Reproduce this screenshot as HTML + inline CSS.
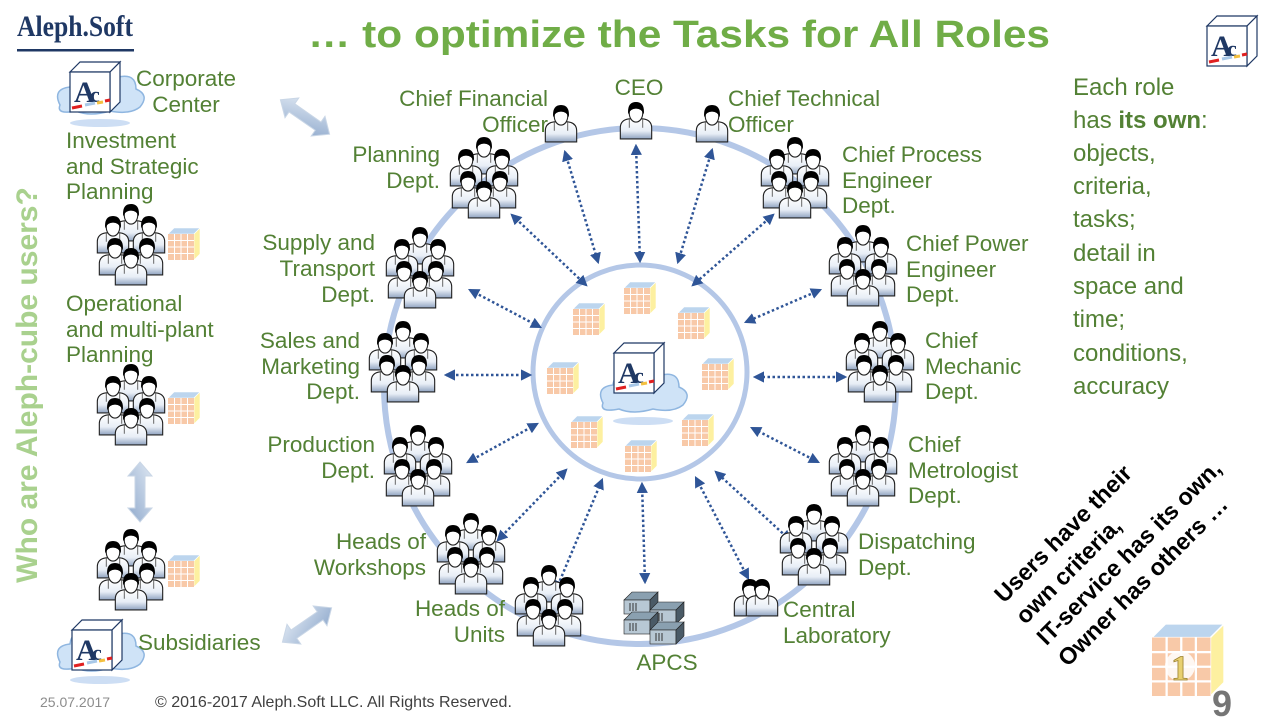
<!DOCTYPE html>
<html><head><meta charset="utf-8"><style>
body{margin:0;width:1280px;height:720px;overflow:hidden;background:#fff}
svg{display:block}
.l{font-family:"Liberation Sans",sans-serif;font-size:22.5px;fill:#538135}
</style></head><body>
<svg width="1280" height="720" viewBox="0 0 1280 720" xmlns="http://www.w3.org/2000/svg">
<defs>
<linearGradient id="bg" x1="0" y1="0" x2="0" y2="1"><stop offset="0" stop-color="#fff"/><stop offset="0.6" stop-color="#e8eef6"/><stop offset="1" stop-color="#8fa3c0"/></linearGradient>
<linearGradient id="ar" x1="0" y1="0" x2="1" y2="1"><stop offset="0" stop-color="#dfe8f3"/><stop offset="1" stop-color="#8fa9cc"/></linearGradient>
<g id="p"><g transform="scale(1.12)">
<path d="M-14,16 L-14,6 Q-14,-1 -6,-2 L6,-2 Q14,-1 14,6 L14,16 Z" fill="url(#bg)" stroke="#222" stroke-width="1"/>
<path d="M-6,-2 L-6,6 M6,-2 L6,6" stroke="#555" stroke-width="0.8"/>
<ellipse cx="0" cy="-7" rx="6" ry="8" fill="#fff" stroke="#222"/>
<path d="M-7,-6 Q-8,-17 0,-17 Q8,-17 7,-6 Q5,-11 0,-11 Q-5,-11 -7,-6Z" fill="#000"/>
</g></g>
<g id="g6">
<use href="#p" x="35" y="18"/><use href="#p" x="17" y="30"/><use href="#p" x="53" y="30"/>
<use href="#p" x="19" y="52"/><use href="#p" x="51" y="52"/><use href="#p" x="35" y="62"/>
</g>
<g id="c">
<path d="M0,6 L6,0 L32,0 L26,6Z" fill="#bcd5ee" stroke="#fff" stroke-width="0.6"/>
<path d="M26,6 L32,0 L32,26 L26,32Z" fill="#fdf0a0" stroke="#fff" stroke-width="0.6"/>
<rect x="0" y="6" width="26" height="26" fill="#f8c9a8"/>
<path d="M6.5,6V32M13,6V32M19.5,6V32M0,12.5H26M0,19H26M0,25.5H26" stroke="#fff" stroke-width="1"/>
</g>
<g id="logo">
<path d="M0,10 L10,0 L50,0 L40,10Z" fill="#fff" stroke="#1f3864" stroke-width="1.2"/>
<path d="M40,10 L50,0 L50,40 L40,50Z" fill="#fff" stroke="#1f3864" stroke-width="1.2"/>
<rect x="0" y="10" width="40" height="40" fill="#fff" stroke="#1f3864" stroke-width="1.2"/>
<text x="4" y="40" font-family="Liberation Serif,serif" font-size="30" fill="#1f3864" font-weight="bold">A</text>
<text x="20" y="40" font-family="Liberation Serif,serif" font-size="22" fill="#1f3864" font-weight="bold">c</text>
<path d="M2,46 L12,44" stroke="#e02020" stroke-width="3"/><path d="M15,43 L25,41" stroke="#a8c8e8" stroke-width="3"/><path d="M27,41 L33,40" stroke="#f4c040" stroke-width="3"/><path d="M35,39 L40,38" stroke="#e02020" stroke-width="3"/>
</g>
<g id="cloud">
<path d="M-40,10 Q-48,-6 -30,-8 Q-28,-24 -10,-18 Q2,-30 18,-18 Q36,-22 36,-6 Q50,0 40,12 Q30,20 10,16 Q-10,22 -24,16 Q-44,20 -40,10Z" fill="#cfe3f7" stroke="#8fb6e0" stroke-width="1.5"/>
<ellipse cx="0" cy="28" rx="30" ry="4" fill="#b8d0f0" opacity="0.7"/>
</g>
<marker id="ah" viewBox="0 0 10 10" refX="8" refY="5" markerWidth="4.5" markerHeight="4.5" orient="auto-start-reverse"><path d="M0,0 L10,5 L0,10Z" fill="#2f5597"/></marker>
<g id="srv">
<path d="M0,8 L8,0 L34,0 L26,8Z" fill="#8aa0b0" stroke="#222" stroke-width="0.6"/>
<rect x="0" y="8" width="26" height="14" fill="#b8c8d4" stroke="#222" stroke-width="0.6"/>
<path d="M26,8 L34,0 L34,14 L26,22Z" fill="#4a5a66" stroke="#222" stroke-width="0.6"/>
<path d="M6,11V19M9,11V19M12,11V19" stroke="#333" stroke-width="1"/>
</g>
<g id="dbl"><path d="M0,0 L14,-12 L14,-5 L46,-5 L46,-12 L60,0 L46,12 L46,5 L14,5 L14,12Z" fill="url(#ar)" stroke="#c9d6e6" stroke-width="1"/></g>
</defs>

<text x="17" y="36" font-family="Liberation Serif,serif" font-size="30" font-weight="bold" fill="#1f3864" textLength="116" lengthAdjust="spacingAndGlyphs">Aleph.Soft</text>
<rect x="17" y="49" width="117" height="2.5" fill="#1f3864"/>
<text x="308" y="47" font-family="Liberation Sans,sans-serif" font-size="38" font-weight="bold" fill="#70ad47" textLength="742" lengthAdjust="spacingAndGlyphs">… to optimize the Tasks for All Roles</text>
<use href="#logo" x="1207" y="16"/>

<text transform="translate(37,385) rotate(-90)" text-anchor="middle" font-family="Liberation Sans,sans-serif" font-size="30" font-weight="bold" fill="#a9d18e">Who are Aleph-cube users?</text>

<ellipse cx="640" cy="386" rx="256" ry="258" fill="none" stroke="#b4c7e7" stroke-width="6"/>
<circle cx="640" cy="372" r="107" fill="none" stroke="#b4c7e7" stroke-width="5"/>

<g stroke="#2f5597" stroke-width="2.5" stroke-dasharray="2.5,2.5" marker-start="url(#ah)" marker-end="url(#ah)" fill="none">
<path d="M636,146 L640,261"/><path d="M565,152 L598,262"/><path d="M712,150 L678,262"/>
<path d="M512,215 L586,285"/><path d="M773,215 L693,285"/>
<path d="M470,290 L540,327"/><path d="M820,290 L746,322"/>
<path d="M446,375 L530,375"/><path d="M845,377 L755,377"/>
<path d="M468,462 L537,424"/><path d="M818,462 L752,428"/>
<path d="M498,540 L566,470"/><path d="M790,540 L716,472"/>
<path d="M556,590 L602,480"/><path d="M748,578 L696,478"/>
<path d="M645,582 L642,484"/>
</g>

<use href="#c" x="624" y="282"/><use href="#c" x="573" y="303"/><use href="#c" x="678" y="307"/>
<use href="#c" x="547" y="362"/><use href="#c" x="702" y="358"/><use href="#c" x="571" y="416"/>
<use href="#c" x="682" y="414"/><use href="#c" x="625" y="440"/>
<use href="#cloud" x="643" y="393"/>
<use href="#logo" x="614" y="343"/>

<use href="#p" x="561" y="124"/><use href="#p" x="636" y="121"/><use href="#p" x="712" y="124"/>
<use href="#g6" x="449" y="138"/><use href="#g6" x="385" y="228"/><use href="#g6" x="368" y="322"/>
<use href="#g6" x="383" y="426"/><use href="#g6" x="436" y="514"/><use href="#g6" x="514" y="566"/>
<use href="#g6" x="760" y="138"/><use href="#g6" x="828" y="226"/><use href="#g6" x="845" y="322"/>
<use href="#g6" x="828" y="426"/><use href="#g6" x="779" y="505"/>
<use href="#p" x="750" y="598"/><use href="#p" x="762" y="598"/>
<use href="#srv" x="624" y="592"/><use href="#srv" x="650" y="602"/><use href="#srv" x="624" y="612"/><use href="#srv" x="650" y="622"/>

<use href="#cloud" x="100" y="95"/><use href="#logo" x="70" y="62"/>
<use href="#g6" x="96" y="205"/><use href="#c" x="168" y="228"/>
<use href="#g6" x="96" y="365"/><use href="#c" x="168" y="392"/>
<use href="#g6" x="96" y="530"/><use href="#c" x="168" y="555"/>
<use href="#cloud" x="100" y="652"/><use href="#logo" x="72" y="620"/>
<g transform="translate(140,492) rotate(90)"><use href="#dbl" x="-30" y="0"/></g>
<g transform="translate(305,117) rotate(35)"><use href="#dbl" x="-30" y="0"/></g>
<g transform="translate(307,625) rotate(-35)"><use href="#dbl" x="-30" y="0"/></g>

<g class="l">
<text x="186" y="86" text-anchor="middle">Corporate</text><text x="186" y="112" text-anchor="middle">Center</text>
<text x="66" y="148">Investment</text><text x="66" y="174">and Strategic</text><text x="66" y="199">Planning</text>
<text x="66" y="311">Operational</text><text x="66" y="337">and multi-plant</text><text x="66" y="362">Planning</text>
<text x="138" y="650">Subsidiaries</text>
<text x="548" y="106" text-anchor="end">Chief Financial</text><text x="548" y="132" text-anchor="end">Officer</text>
<text x="639" y="95" text-anchor="middle">CEO</text>
<text x="728" y="106">Chief Technical</text><text x="728" y="132">Officer</text>
<text x="440" y="162" text-anchor="end">Planning</text><text x="440" y="188" text-anchor="end">Dept.</text>
<text x="375" y="250" text-anchor="end">Supply and</text><text x="375" y="276" text-anchor="end">Transport</text><text x="375" y="302" text-anchor="end">Dept.</text>
<text x="360" y="348" text-anchor="end">Sales and</text><text x="360" y="374" text-anchor="end">Marketing</text><text x="360" y="399" text-anchor="end">Dept.</text>
<text x="375" y="452" text-anchor="end">Production</text><text x="375" y="478" text-anchor="end">Dept.</text>
<text x="426" y="549" text-anchor="end">Heads of</text><text x="426" y="575" text-anchor="end">Workshops</text>
<text x="505" y="616" text-anchor="end">Heads of</text><text x="505" y="642" text-anchor="end">Units</text>
<text x="667" y="670" text-anchor="middle">APCS</text>
<text x="783" y="617">Central</text><text x="783" y="643">Laboratory</text>
<text x="858" y="549">Dispatching</text><text x="858" y="575">Dept.</text>
<text x="908" y="452">Chief</text><text x="908" y="478">Metrologist</text><text x="908" y="503">Dept.</text>
<text x="925" y="348">Chief</text><text x="925" y="374">Mechanic</text><text x="925" y="399">Dept.</text>
<text x="906" y="251">Chief Power</text><text x="906" y="277">Engineer</text><text x="906" y="302">Dept.</text>
<text x="842" y="162">Chief Process</text><text x="842" y="188">Engineer</text><text x="842" y="213">Dept.</text>
</g>
<g class="l" style="font-size:24px">
<text x="1073" y="95">Each role</text><text x="1073" y="128">has <tspan font-weight="bold">its own</tspan>:</text>
<text x="1073" y="161">objects,</text><text x="1073" y="194">criteria,</text><text x="1073" y="227">tasks;</text>
<text x="1073" y="261">detail in</text><text x="1073" y="294">space and</text><text x="1073" y="327">time;</text>
<text x="1073" y="361">conditions,</text><text x="1073" y="394">accuracy</text>
</g>

<text transform="translate(1004,604) rotate(-45)" font-family="Liberation Sans,sans-serif" font-size="23.5" font-weight="bold" fill="#000">
<tspan x="0" y="0">Users have their</tspan><tspan x="0" dy="30">own criteria,</tspan><tspan x="0" dy="30">IT-service has its own,</tspan><tspan x="0" dy="30">Owner has others …</tspan></text>

<g transform="translate(1152,624) scale(2.25)"><use href="#c"/></g>
<circle cx="1180" cy="666" r="15" fill="#fff" opacity="0.85"/>
<text x="1180" y="680" text-anchor="middle" font-family="Liberation Serif,serif" font-size="36" font-weight="bold" fill="#e8d070" stroke="#9a8030" stroke-width="0.8">1</text>
<text x="1222" y="716" text-anchor="middle" font-family="Liberation Sans,sans-serif" font-size="36" font-weight="bold" fill="#757575">9</text>

<text x="40" y="707" font-family="Liberation Sans,sans-serif" font-size="14" fill="#8c8c8c">25.07.2017</text>
<text x="155" y="707" font-family="Liberation Sans,sans-serif" font-size="16" fill="#404040">© 2016-2017 Aleph.Soft LLC. All Rights Reserved.</text>
</svg>
</body></html>
